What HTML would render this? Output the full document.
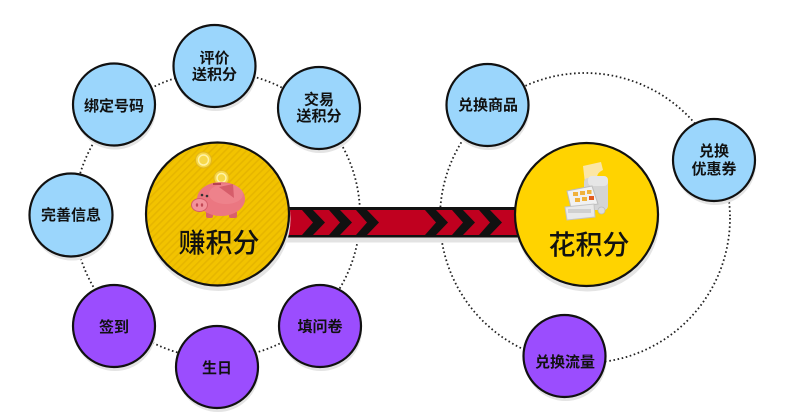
<!DOCTYPE html>
<html><head><meta charset="utf-8"><style>
html,body{margin:0;padding:0;background:#fff;}
svg{display:block;}
text{font-family:"Liberation Sans","Noto Sans CJK SC",sans-serif;fill:#111;}
.s{font-size:15px;font-weight:bold;}
.b{font-size:27px;font-weight:500;}
</style></head><body>
<svg width="802" height="413" viewBox="0 0 802 413" xmlns="http://www.w3.org/2000/svg">
<defs>
<pattern id="st" width="5" height="5" patternUnits="userSpaceOnUse" patternTransform="rotate(45)">
<rect width="5" height="5" fill="#f2c300"/>
<rect width="1.6" height="5" fill="#e6b600"/>
</pattern>
</defs>
<!-- dotted circles -->
<circle cx="217" cy="215" r="143" fill="none" stroke="#222" stroke-width="1.8" stroke-dasharray="1.6 2.6"/>
<circle cx="585" cy="218" r="145" fill="none" stroke="#222" stroke-width="1.8" stroke-dasharray="1.6 2.6"/>

<!-- band -->
<rect x="285" y="237" width="235" height="5.5" fill="#e3e3e3"/>
<rect x="285" y="207" width="235" height="30.5" fill="#111"/>
<rect x="285" y="210" width="235" height="25" fill="#c0001f"/>
<g fill="#111">
<polygon points="302,210 313,210 325,222.5 313,235 302,235 313,222.5"/>
<polygon points="329,210 340,210 352,222.5 340,235 329,235 340,222.5"/>
<polygon points="356,210 367,210 379,222.5 367,235 356,235 367,222.5"/>
<polygon points="425,210 436,210 448,222.5 436,235 425,235 436,222.5"/>
<polygon points="452,210 463,210 475,222.5 463,235 452,235 463,222.5"/>
<polygon points="479,210 490,210 502,222.5 490,235 479,235 490,222.5"/>
</g>

<!-- shadows -->
<g fill="#e4e4e4">
<circle cx="215.5" cy="70" r="41"/>
<circle cx="115" cy="108.5" r="41"/>
<circle cx="320" cy="112" r="41"/>
<circle cx="72" cy="219" r="41.5"/>
<circle cx="115" cy="330" r="41"/>
<circle cx="218" cy="371" r="41"/>
<circle cx="321" cy="330" r="41"/>
<circle cx="488.5" cy="109" r="41"/>
<circle cx="715" cy="164" r="41"/>
<circle cx="565.5" cy="360" r="41"/>
<circle cx="218.5" cy="219" r="72"/>
<circle cx="587.5" cy="219.5" r="72"/>
</g>

<!-- circles -->
<g stroke="#111" stroke-width="2.2">
<circle cx="214.5" cy="66" r="41" fill="#9bd6fc"/>
<circle cx="114" cy="104.5" r="41" fill="#9bd6fc"/>
<circle cx="319" cy="108" r="41" fill="#9bd6fc"/>
<circle cx="71" cy="215" r="41.5" fill="#9bd6fc"/>
<circle cx="487.5" cy="105" r="41" fill="#9bd6fc"/>
<circle cx="714" cy="160" r="41" fill="#9bd6fc"/>
<circle cx="114" cy="326" r="41" fill="#9b4dfe"/>
<circle cx="217" cy="367" r="41" fill="#9b4dfe"/>
<circle cx="320" cy="326" r="41" fill="#9b4dfe"/>
<circle cx="564.5" cy="356" r="41" fill="#9b4dfe"/>
<circle cx="217.5" cy="214" r="71.5" fill="url(#st)"/>
<circle cx="586.5" cy="214.5" r="71.5" fill="#ffd300"/>
</g>

<!-- piggy -->
<g>
<circle cx="203.5" cy="160" r="8" fill="#f7d84a" stroke="#e2b61e" stroke-width="1"/>
<circle cx="203.5" cy="160" r="5" fill="none" stroke="#fff3a8" stroke-width="1.5"/>
<circle cx="221.5" cy="178" r="7.5" fill="#f7d84a" stroke="#e2b61e" stroke-width="1"/>
<circle cx="221.5" cy="178" r="4.5" fill="none" stroke="#fff3a8" stroke-width="1.5"/>
<rect x="206" y="211" width="7" height="7" rx="2" fill="#d9606c"/>
<rect x="229" y="211" width="8" height="7" rx="2" fill="#d9606c"/>
<ellipse cx="221" cy="199" rx="24" ry="17" fill="#eb7781"/>
<ellipse cx="226" cy="194" rx="17" ry="10" fill="#f08b93" opacity="0.6"/>
<path d="M219 187 L233 184 L234 198 Z" fill="#d65d6a"/>
<rect x="213" y="183" width="8" height="2" fill="#b84452"/>
<circle cx="202" cy="195" r="1.3" fill="#333"/>
<circle cx="207" cy="196" r="1.3" fill="#333"/>
<ellipse cx="199.5" cy="205" rx="8" ry="6.5" fill="#f3929a" stroke="#d65d6a" stroke-width="1"/>
<ellipse cx="197" cy="205" rx="1.2" ry="1.8" fill="#c24856"/>
<ellipse cx="202" cy="205" rx="1.2" ry="1.8" fill="#c24856"/>
</g>

<!-- cash register -->
<g>
<path d="M583 166 Q592 164 601 162 L603 170 Q596 173 597 180 L596 184 L585 184 Q584 174 583 166 Z" fill="#fbe6a6"/>
<rect x="584" y="178" width="24" height="32" rx="4" fill="#d4d4d4"/>
<rect x="588" y="176" width="20" height="10" rx="4" fill="#e6e6e6"/>
<polygon points="567,191 592,186 598,204 571,208" fill="#f1f1f1" stroke="#bdbdbd" stroke-width="1"/>
<g fill="#f0b23c">
<rect x="573" y="192" width="5" height="4"/>
<rect x="580" y="191" width="5" height="4"/>
<rect x="587" y="190" width="4.5" height="4"/>
<rect x="575" y="198" width="5" height="4"/>
<rect x="582" y="197" width="5" height="4"/>
</g>
<rect x="589" y="196" width="5" height="4" fill="#e35a1e"/>
<polygon points="565,207 594,204 595,217 567,220" fill="#e9e9e9" stroke="#c4c4c4" stroke-width="1"/>
<rect x="568" y="209" width="23" height="4" fill="#d0d0d0"/>
<circle cx="601.5" cy="210.5" r="3.5" fill="#dcdcdc" stroke="#bbb" stroke-width="0.8"/>
</g>

<!-- labels -->
<g text-anchor="middle" dominant-baseline="central">
<text class="s" x="214.5" y="58.5">评价</text>
<text class="s" x="214.5" y="75">送积分</text>
<text class="s" x="114" y="106.5">绑定号码</text>
<text class="s" x="319" y="100">交易</text>
<text class="s" x="319" y="116.5">送积分</text>
<text class="s" x="71" y="215.5">完善信息</text>
<text class="s" x="114" y="327.5">签到</text>
<text class="s" x="217" y="368.5">生日</text>
<text class="s" x="320" y="327">填问卷</text>
<text class="s" x="488" y="105.5">兑换商品</text>
<text class="s" x="714" y="151.5">兑换</text>
<text class="s" x="714" y="169.5">优惠券</text>
<text class="s" x="565" y="362.5">兑换流量</text>
<text class="b" x="219" y="243.5">赚积分</text>
<text class="b" x="589" y="245.5">花积分</text>
</g>
</svg>
</body></html>
